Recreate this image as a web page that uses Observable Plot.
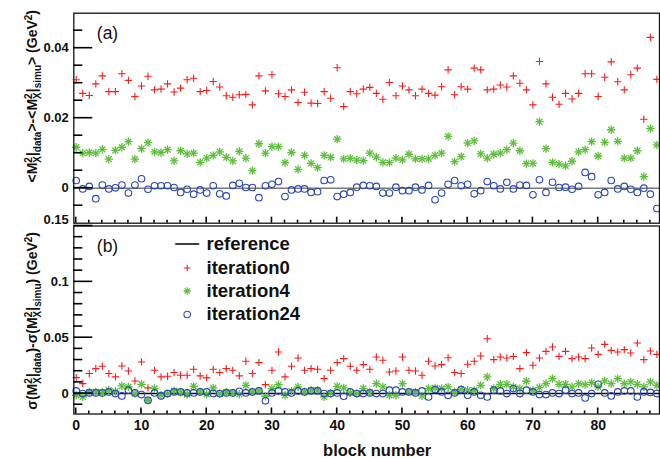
<!DOCTYPE html>
<html><head><meta charset="utf-8">
<script src="https://cdn.jsdelivr.net/npm/d3@7"></script>
<script src="https://cdn.jsdelivr.net/npm/@observablehq/plot@0.6"></script>
<style>
body{margin:0;background:#fff;}
#chart{position:relative;width:660px;height:458px;overflow:hidden;background:#fff;}
#chart svg{position:absolute;left:0;overflow:visible;}
</style></head><body><div id="chart"></div>
<script>
// ---------- data ----------
const blocks = [0,1,2,3,4,5,6,7,8,9,10,11,12,13,14,15,16,17,18,19,20,21,22,23,24,25,26,27,28,29,
30,31,32,33,34,35,36,37,38,39,40,41,42,43,44,45,46,47,48,49,50,51,52,53,54,55,56,57,58,59,
60,61,62,63,64,65,66,67,68,69,70,71,72,73,74,75,76,77,78,79,80,81,82,83,84,85,86,87,88,89];

// panel (a): <M2X|data> - <M2X|simu>
const meanIter0 = [0.0310,0.0271,0.0265,0.0298,0.0321,0.0276,0.0276,0.0327,0.0308,0.0262,
0.0292,0.0320,0.0281,0.0283,0.0298,0.0275,0.0286,0.0310,0.0314,0.0276,
0.0279,0.0305,0.0289,0.0264,0.0260,0.0267,0.0268,0.0238,0.0321,0.0278,
0.0324,0.0270,0.0262,0.0281,0.0245,0.0274,0.0243,0.0242,0.0276,0.0257,
0.0344,0.0233,0.0276,0.0270,0.0283,0.0288,0.0271,0.0254,0.0302,0.0264,
0.0292,0.0281,0.0264,0.0283,0.0271,0.0266,0.0290,0.0338,0.0267,0.0290,
0.0283,0.0343,0.0338,0.0281,0.0283,0.0295,0.0289,0.0321,0.0300,0.0281,
0.0238,0.0362,0.0298,0.0260,0.0240,0.0271,0.0255,0.0271,0.0327,0.0327,
0.0262,0.0317,0.0361,0.0304,0.0281,0.0324,0.0343,0.0197,0.0431,0.0311];
const meanIter4 = [0.0117,0.0100,0.0102,0.0100,0.0111,0.0083,0.0108,0.0117,0.0133,0.0083,
0.0113,0.0130,0.0104,0.0102,0.0110,0.0078,0.0107,0.0098,0.0100,0.0074,
0.0086,0.0094,0.0104,0.0088,0.0078,0.0105,0.0086,0.0050,0.0127,0.0100,
0.0119,0.0119,0.0073,0.0102,0.0054,0.0094,0.0071,0.0059,0.0094,0.0088,
0.0140,0.0084,0.0085,0.0080,0.0079,0.0100,0.0089,0.0074,0.0073,0.0086,
0.0081,0.0097,0.0084,0.0084,0.0084,0.0094,0.0100,0.0148,0.0076,0.0090,
0.0129,0.0135,0.0098,0.0086,0.0097,0.0100,0.0110,0.0129,0.0107,0.0070,
0.0071,0.0190,0.0113,0.0074,0.0069,0.0064,0.0077,0.0104,0.0110,0.0133,
0.0092,0.0131,0.0167,0.0134,0.0086,0.0086,0.0107,0.0033,0.0170,0.0124];
const meanIter24 = [0.0022,-0.0002,0.0005,-0.0030,0.0009,-0.0002,0.0001,0.0009,-0.0014,0.0009,
0.0027,-0.0003,0.0007,0.0007,0.0007,0.0002,-0.0012,-0.0003,-0.0017,-0.0005,
-0.0014,0.0007,-0.0016,-0.0022,0.0008,0.0014,0.0002,0.0002,-0.0027,0.0007,
0.0011,0.0019,-0.0024,-0.0005,-0.0002,-0.0002,-0.0012,-0.0010,0.0022,0.0024,
-0.0024,-0.0017,-0.0012,0.0003,0.0008,0.0007,0.0005,-0.0014,-0.0014,0.0003,
-0.0007,-0.0007,0.0003,-0.0005,0.0008,-0.0033,-0.0014,0.0011,0.0022,0.0007,
0.0011,-0.0016,-0.0007,0.0019,0.0007,-0.0002,0.0017,-0.0002,0.0009,0.0008,
-0.0019,0.0024,-0.0012,0.0017,0.0002,0.0003,-0.0003,0.0005,0.0045,0.0033,
-0.0019,-0.0012,0.0022,-0.0002,0.0005,-0.0003,-0.0012,0.0000,-0.0017,-0.0058];

// panel (b): sigma(M2X|data) - sigma(M2X|simu)
const sigmaIter0 = [0.0143,0.0089,0.0179,0.0223,0.0244,0.0179,0.0149,0.0247,0.0202,0.0113,
0.0283,0.0051,0.0208,0.0149,0.0155,0.0188,0.0164,0.0164,0.0217,0.0158,
0.0140,0.0217,0.0188,0.0223,0.0208,0.0158,0.0289,0.0179,0.0277,0.0080,
0.0208,0.0372,0.0149,0.0244,0.0318,0.0208,0.0223,0.0217,0.0134,0.0208,
0.0277,0.0313,0.0244,0.0208,0.0259,0.0217,0.0327,0.0298,0.0193,0.0202,
0.0327,0.0208,0.0202,0.0164,0.0289,0.0247,0.0259,0.0321,0.0188,0.0179,
0.0262,0.0289,0.0336,0.0491,0.0304,0.0327,0.0318,0.0333,0.0223,0.0366,
0.0253,0.0318,0.0378,0.0417,0.0333,0.0378,0.0313,0.0327,0.0313,0.0408,
0.0351,0.0440,0.0387,0.0372,0.0393,0.0363,0.0452,0.0304,0.0381,0.0351];
const sigmaIter4 = [-0.0015,-0.0030,0.0015,0.0015,0.0010,0.0030,0.0020,0.0068,0.0060,0.0000,
0.0083,-0.0060,0.0045,-0.0015,0.0000,0.0024,0.0012,-0.0006,0.0065,0.0015,
-0.0006,0.0050,0.0000,0.0015,0.0006,-0.0006,0.0074,0.0015,0.0024,-0.0024,
0.0045,0.0080,-0.0015,0.0024,0.0060,0.0015,0.0030,0.0030,-0.0030,0.0006,
0.0065,0.0050,0.0006,0.0000,0.0045,0.0010,0.0089,0.0060,-0.0015,-0.0015,
0.0089,0.0015,0.0015,-0.0021,0.0045,0.0050,0.0045,0.0060,0.0015,0.0036,
0.0030,0.0030,0.0074,0.0149,0.0045,0.0083,0.0083,0.0060,0.0045,0.0110,
0.0030,0.0054,0.0089,0.0134,0.0083,0.0083,0.0060,0.0089,0.0080,0.0098,
0.0060,0.0113,0.0089,0.0134,0.0089,0.0104,0.0083,0.0060,0.0104,0.0074];
const sigmaIter24 = [0.0024,0.0000,0.0006,0.0006,0.0006,0.0015,0.0000,-0.0021,0.0030,0.0006,
-0.0009,-0.0060,0.0006,-0.0021,0.0000,0.0015,0.0015,0.0006,0.0006,0.0015,
0.0015,0.0000,0.0000,0.0006,0.0006,0.0020,0.0006,0.0015,0.0024,-0.0065,
0.0006,0.0024,0.0015,0.0006,0.0024,0.0015,0.0024,0.0024,0.0000,0.0000,
0.0006,-0.0024,0.0015,0.0000,0.0000,0.0006,0.0000,0.0000,0.0030,0.0030,
0.0015,0.0015,0.0006,0.0024,-0.0030,0.0036,0.0015,-0.0015,0.0006,0.0036,
-0.0015,0.0015,-0.0015,-0.0030,0.0030,0.0024,0.0000,0.0045,0.0000,0.0030,
0.0015,-0.0009,-0.0009,0.0006,0.0000,0.0030,0.0000,0.0006,-0.0039,0.0000,
0.0083,0.0006,-0.0021,0.0015,0.0024,0.0024,-0.0030,0.0015,0.0010,0.0000];

const referenceLevel = [0];
const legendLabels = ["reference","iteration0","iteration4","iteration24"];

// ticks
const xMajor = [0,10,20,30,40,50,60,70,80];
const xMinor = [2,4,6,8,12,14,16,18,22,24,26,28,32,34,36,38,42,44,46,48,52,54,56,58,62,64,66,68,72,74,76,78,82,84,86,88];
const yMajorA = [0,0.02,0.04];
const yMinorA = [-0.005,0.005,0.01,0.015,0.025,0.03,0.035,0.045];
const yMajorB = [0,0.05,0.1];
const yTopB = [0.15];
const yMinorB = [-0.01,0.01,0.02,0.03,0.04,0.06,0.07,0.08,0.09,0.11,0.12,0.13,0.14];

// ---------- layout / style ----------
const FONT = "'Liberation Sans', Arial, Helvetica, sans-serif";
const RED = "#ff1a1a", GREEN = "#5cbf3a", BLUE = "#2a48b4", INK = "#111111";
const W = 660, ML = 73.3, MR = 1;
const xDomain = [-0.37, 89.4];
const yDomainA = [-0.01, 0.05], yDomainB = [-0.0183, 0.15];

const rows = vals => blocks.map((b, i) => ({block: b, value: vals[i]}));
const fmt = d => String(d);
const common = {
  width: W, marginLeft: ML, marginRight: MR,
  x: {domain: xDomain, label: null, axis: null},
  style: {fontFamily: FONT, overflow: "visible", background: "transparent"}
};
function seriesMarks(r, g, b) {
  return [
    Plot.dot(rows(r), {x: "block", y: "value", symbol: "plus", r: 2.5, stroke: RED, strokeWidth: 1.1}),
    Plot.dot(rows(g), {x: "block", y: "value", symbol: "plus", r: 2.8, stroke: GREEN, strokeWidth: 1.3}),
    Plot.dot(rows(g), {x: "block", y: "value", symbol: "times", r: 2.8, stroke: GREEN, strokeWidth: 1.3}),
    Plot.dot(rows(b), {x: "block", y: "value", symbol: "circle", r: 3.3, stroke: BLUE, fill: "none", strokeWidth: 1.1})
  ];
}

// ---------- panel (a) ----------
const plotA = Plot.plot({
  ...common, height: 224, marginTop: 12.7, marginBottom: 1.3,
  y: {domain: yDomainA, label: null, axis: null},
  marks: [
    Plot.ruleY(referenceLevel, {stroke: "#7a7a7a", strokeWidth: 1.6}),
    ...seriesMarks(meanIter0, meanIter4, meanIter24),
    Plot.frame({stroke: INK, strokeWidth: 1.3}),
    Plot.axisY(yMajorA, {tickSize: 0, tickPadding: 5, tickFormat: fmt, label: null, fontSize: 13, fontWeight: "bold", fill: INK}),
    Plot.text(["(a)"], {frameAnchor: "top-left", dx: 23, dy: 20, textAnchor: "start", lineAnchor: "middle", fontSize: 17.5, fill: INK})
  ]
});

// ---------- panel (b) ----------
const lineShape = {draw(ctx, l) { ctx.moveTo(0, 0); ctx.lineTo(0, -l); }};
const legDX = 113.4, legTextDX = 132.7, legDY = [18, 42, 65, 88.5];
const plotB = Plot.plot({
  ...common, height: 234, marginTop: 1.5, marginBottom: 44.5,
  y: {domain: yDomainB, label: null, axis: null},
  marks: [
    Plot.ruleY(referenceLevel, {stroke: "#000", strokeWidth: 1.4}),
    ...seriesMarks(sigmaIter0, sigmaIter4, sigmaIter24),
    Plot.frame({stroke: INK, strokeWidth: 1.3}),
    Plot.axisY(yMajorB, {tickSize: 0, tickPadding: 5, tickFormat: fmt, label: null, fontSize: 13, fontWeight: "bold", fill: INK}),
    Plot.axisY(yTopB, {tickSize: 0, tickPadding: 5, tickFormat: fmt, label: null, fontSize: 13, fontWeight: "bold", fill: INK, dy: -6}),
    Plot.axisX(xMajor, {anchor: "bottom", tickSize: 0, tickPadding: 6, label: null, fontSize: 14, fontWeight: "bold", fill: INK}),
    Plot.text(["block number"], {frameAnchor: "bottom", dx: 10.5, dy: 36.5, lineAnchor: "middle", fontSize: 16.5, fontWeight: "bold", fill: INK}),
    Plot.text(["(b)"], {frameAnchor: "top-left", dx: 23, dy: 20, textAnchor: "start", lineAnchor: "middle", fontSize: 17.5, fill: INK}),
    // legend
    Plot.vector([legendLabels[0]], {frameAnchor: "top-left", dx: legDX - 11.5, dy: legDY[0], rotate: 90, length: 23, anchor: "start", shape: lineShape, stroke: "#000", strokeWidth: 1.3}),
    Plot.dot([legendLabels[1]], {frameAnchor: "top-left", dx: legDX, dy: legDY[1], symbol: "plus", r: 2.3, stroke: RED, strokeWidth: 1.1}),
    Plot.dot([legendLabels[2]], {frameAnchor: "top-left", dx: legDX, dy: legDY[2], symbol: "plus", r: 2.5, stroke: GREEN, strokeWidth: 1.3}),
    Plot.dot([legendLabels[2]], {frameAnchor: "top-left", dx: legDX, dy: legDY[2], symbol: "times", r: 2.5, stroke: GREEN, strokeWidth: 1.3}),
    Plot.dot([legendLabels[3]], {frameAnchor: "top-left", dx: legDX, dy: legDY[3], symbol: "circle", r: 3.3, stroke: BLUE, fill: "none", strokeWidth: 1.1}),
    ...legendLabels.map((lab, i) => Plot.text([lab], {frameAnchor: "top-left", dx: legTextDX, dy: legDY[i], textAnchor: "start", lineAnchor: "middle", fontSize: 18.5, fontWeight: "bold", fill: INK}))
  ]
});

// ---------- inward ROOT-style ticks, placed with each plot's own scales ----------
function addTicks(svg, yMajor, yMinor) {
  const sx = svg.scale("x"), sy = svg.scale("y");
  const x0 = sx.apply(xDomain[0]);
  const yb = sy.apply(sy.domain[0]);
  const g = d3.select(svg).append("g").attr("stroke", "#000").attr("stroke-width", 1.6).attr("fill", "none");
  const hy = (v, len) => g.append("line").attr("x1", x0).attr("x2", x0 + len).attr("y1", sy.apply(v)).attr("y2", sy.apply(v));
  const vx = (v, len) => g.append("line").attr("x1", sx.apply(v)).attr("x2", sx.apply(v)).attr("y1", yb).attr("y2", yb - len);
  yMajor.forEach(v => hy(v, 19));
  yMinor.forEach(v => hy(v, 9));
  xMajor.forEach(v => vx(v, 6));
  xMinor.forEach(v => vx(v, 3));
}
addTicks(plotA, yMajorA, yMinorA);
addTicks(plotB, yMajorB.concat(yTopB), yMinorB);

// ---------- rotated y titles with sub/superscripts ----------
function addTitle(svg, x, yEnd, parts) {
  const t = d3.select(svg).append("text")
    .attr("transform", `translate(${x},${yEnd}) rotate(-90)`)
    .attr("text-anchor", "end").attr("font-family", FONT).attr("font-weight", "bold")
    .attr("font-size", 14).attr("fill", INK);
  let cur = 0;
  for (const p of parts) {
    const shift = p.k === "sup" ? -5.5 : p.k === "sub" ? 3.5 : 0;
    const s = t.append("tspan").text(p.t).attr("dy", shift - cur);
    if (p.k) s.attr("font-size", 10);
    if (p.back) s.attr("dx", -p.back);
    cur = shift;
  }
}
const P = (t, k, back) => ({t, k, back});
addTitle(plotA, 37, 10, [P("<M"), P("2", "sup"), P("X", "sub", 5.6), P("|"), P("data", "sub"), P(">-<M"), P("2", "sup"), P("X", "sub", 5.6), P("|"), P("simu", "sub"), P("> (GeV"), P("2", "sup"), P(")")]);
addTitle(plotB, 37, 8, [P("σ(M"), P("2", "sup"), P("X", "sub", 5.6), P("|"), P("data", "sub"), P(")-σ(M"), P("2", "sup"), P("X", "sub", 5.6), P("|"), P("simu", "sub"), P(") (GeV"), P("2", "sup"), P(")")]);

plotA.style.top = "0px";
plotB.style.top = "224px";
const chart = document.getElementById("chart");
chart.append(plotA, plotB);
</script></body></html>
